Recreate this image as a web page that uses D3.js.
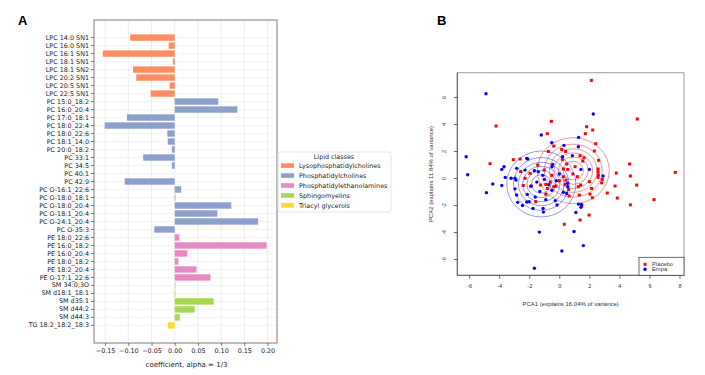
<!DOCTYPE html>
<html>
<head>
<meta charset="utf-8">
<script src="https://cdn.jsdelivr.net/npm/d3@7"></script>
<style>
  body { margin: 0; background: #fff; }
  svg { display: block; }
</style>
</head>
<body>
<svg id="chart" width="705" height="375"></svg>
<script>
// ---- panel A: coefficients per lipid ----
const lipids = [
  "LPC 14:0 SN1", "LPC 16:0 SN1", "LPC 16:1 SN1", "LPC 18:1 SN1", "LPC 18:1 SN2",
  "LPC 20:2 SN1", "LPC 20:5 SN1", "LPC 22:5 SN1",
  "PC 15:0_18:2", "PC 16:0_20:4", "PC 17:0_18:1", "PC 18:0_22:4", "PC 18:0_22:6",
  "PC 18:1_14:0", "PC 20:0_18:2", "PC 33:1", "PC 34:5", "PC 40:1", "PC 42:9",
  "PC O-16:1_22:6", "PC O-18:0_18:1", "PC O-18:0_20:4", "PC O-18:1_20:4",
  "PC O-24:1_20:4", "PC O-35:3",
  "PE 18:0_22:6", "PE 16:0_18:2", "PE 16:0_20:4", "PE 18:0_18:2", "PE 18:2_20:4",
  "PE O-17:1_22:6",
  "SM 34:0;3O", "SM d18:1_18:1", "SM d35:1", "SM d44:2", "SM d44:3",
  "TG 18:2_18:2_18:3"
];
const coefs = [
  -0.096, -0.013, -0.155, -0.004, -0.090, -0.083, -0.011, -0.052,
  0.094, 0.135, -0.103, -0.151, -0.016, -0.015, -0.006, -0.068, -0.006, 0.0, -0.108,
  0.014, 0.0015, 0.122, 0.092, 0.180, -0.044,
  0.010, 0.198, 0.027, 0.008, 0.047, 0.077,
  0.0015, 0.0015, 0.084, 0.043, 0.011,
  -0.015
];
const lipidClass = [
  0, 0, 0, 0, 0, 0, 0, 0,
  1, 1, 1, 1, 1, 1, 1, 1, 1, 1, 1, 1, 1, 1, 1, 1, 1,
  2, 2, 2, 2, 2, 2,
  3, 3, 3, 3, 3,
  4
];
const classNames = [
  "Lysophosphatidylcholines", "Phosphatidylcholines", "Phosphatidylethanolamines",
  "Sphingomyelins", "Triacyl glycerols"
];
const coefTicks = [-0.15, -0.10, -0.05, 0.00, 0.05, 0.10, 0.15, 0.20];

// ---- panel B: PCA scores ----
const placeboPC1 = [
  2.13, 5.19, -4.21, -0.53, 1.82, 2.22, -0.8, 1.73, 2.42, -0.37, 2.33, -0.73, 0.16, 0.42,
  1.38, 1.64, 2.62, 1.56, -4.61, -3.06, -2.61, 0.2, 0.49, 4.68, -2.57, -1.95, -1.44, 0.27,
  0.56, 1.05, 2.58, 2.58, 2.6, 2.58, 3.79, 4.73, 7.72, -2.28, 0.27, 0.45, 0.38, -2.4,
  -1.86, -1.24, -0.9, -0.8, -0.37, -0.22, -0.9, 0.62, 1.33, 1.42, 1.26, 2.0, 2.15, 2.04,
  2.82, 2.86, 3.71, 5.15, 3.19, 3.86, 4.73, 6.3, 2.2, 0.65, 1.5, 1.98, 1.38, 0.33, -1.57,
  0.9, -0.5, 1.2, -1.0, 0.0, -0.6
];
const placeboPC2 = [
  7.23, 4.37, 3.85, 4.2, 3.8, 3.56, 3.28, 3.28, 2.54, 2.37, 2.0, 1.97, 2.12, 1.97,
  1.65, 1.5, 1.31, 1.26, 1.06, 1.36, 1.41, 1.38, 1.04, 1.04, 0.49, 0.35, 0.96, 0.67,
  0.64, 0.84, 0.67, 0.47, 0.24, 0.05, 0.37, 0.15, 0.42, -0.02, 0.1, -0.15, -0.47, -0.55,
  -0.59, -0.52, -0.47, -0.77, -0.64, -0.59, -1.2, -0.84, -1.26, -0.52, -0.64, -0.27, -0.77, -1.19,
  -0.35, -0.1, -0.59, -0.52, -1.11, -1.48, -1.98, -1.6, -1.46, -1.33, -2.05, -2.74, -3.11, -3.42, -1.75,
  0.3, 0.2, 0.1, 0.6, -0.2, -0.3
];
const empaPC1 = [
  -4.88, 2.26, -1.2, 1.29, -0.5, 0.31, 1.27, 0.87, 0.22, -6.2, -2.17, -2.1, -0.44, -0.49,
  -6.1, -3.83, -3.68, -2.28, -1.66, -1.4, -2.84, 1.44, 2.0, 2.91, -3.6, -3.21, -2.95,
  -4.43, -4.85, -3.83, -2.88, -2.95, -2.84, -2.77, -2.45, -2.17, -2.0, -1.75, -1.08, -1.06,
  -1.33, 0.17, -1.66, -2.13, -0.27, -0.15, 0.27, 0.49, 0.56, 0.56, 1.27, 1.47, 1.44, 1.1,
  0.98, 1.6, -1.5, -1.0, -0.7, -1.3, -0.5, -1.9, -0.2, 0.0, -1.1, -1.6, -0.9
];
const empaPC2 = [
  6.24, 4.74, 3.19, 3.01, 2.62, 2.42, 2.32, 1.65, 1.58, 1.58, 1.46, 1.41, 1.01, 0.84,
  0.25, 0.64, 0.84, 0.59, 0.54, 0.47, 0.72, 0.64, 0.64, 0.15, 0.05, -0.02, -0.02,
  -0.44, -1.08, -0.55, -0.15, -0.8, -1.26, -1.8, -2.03, -1.77, -1.75, -2.25, -2.25, -2.52,
  -4.0, -5.4, -6.68, -1.21, -1.68, -2.0, -1.06, -1.14, -0.39, -0.64, -1.93, -1.96, -2.17, -2.55,
  -3.96, -5.0, -0.3, -0.1, -0.5, -1.0, -0.9, -0.6, -0.2, 0.3, 0.2, -1.4, -1.6
];
// density contour centres / outer extent (PCA units) and contour levels
const placeboCentre = [0.93, 0.55];
const placeboSpread = [2.4, 2.44];
const empaCentre = [-1.2, -0.44];
const empaSpread = [2.3, 2.44];
const contourLevels = [1, 2, 3, 4, 5, 6];
const pcaTicksX = [-6, -4, -2, 0, 2, 4, 6, 8];
const pcaTicksY = [-6, -4, -2, 0, 2, 4, 6];

(() => {
  const svg = d3.select("#chart");
  const MPL_FONT = "DejaVu Sans, sans-serif";
  const R_FONT = "Liberation Sans, Arial, sans-serif";

  // ================= Panel A =================
  const a = { left: 94, right: 277, top: 20, bottom: 343 };
  const color = d3.scaleOrdinal()
    .domain(d3.range(classNames.length))
    .range(["#fc8d62", "#8da0cb", "#e78ac3", "#a6d854", "#ffd92f"]);

  const x = d3.scaleLinear()
    .domain([-0.174, 0.2205])
    .range([a.left, a.right]);

  const y = d3.scaleBand()
    .domain(lipids)
    .range([a.top, a.bottom])
    .paddingInner(0.2)
    .paddingOuter(1.8);

  svg.append("text")
    .attr("x", 18).attr("y", 25)
    .style("font-family", "Liberation Sans, Arial, sans-serif")
    .style("font-weight", "bold")
    .style("font-size", "13px")
    .text("A");

  const gA = svg.append("g");

  // grid
  gA.append("g").selectAll("line.vg")
    .data(coefTicks)
    .join("line")
    .attr("x1", d => x(d)).attr("x2", d => x(d))
    .attr("y1", a.top).attr("y2", a.bottom)
    .attr("stroke", "#e8e8e8").attr("stroke-width", 0.8);
  gA.append("g").selectAll("line.hg")
    .data(lipids)
    .join("line")
    .attr("x1", a.left).attr("x2", a.right)
    .attr("y1", d => y(d) + y.bandwidth() / 2)
    .attr("y2", d => y(d) + y.bandwidth() / 2)
    .attr("stroke", "#f0f0f0").attr("stroke-width", 0.8);

  // bars
  gA.selectAll(".bar")
    .data(lipids.map((name, i) => ({ name, value: coefs[i], cls: lipidClass[i] })))
    .join("rect")
    .attr("class", "bar")
    .attr("x", d => x(Math.min(0, d.value)))
    .attr("y", d => y(d.name))
    .attr("width", d => Math.abs(x(d.value) - x(0)))
    .attr("height", y.bandwidth())
    .attr("fill", d => color(d.cls));

  // frame
  gA.append("rect")
    .attr("x", a.left).attr("y", a.top)
    .attr("width", a.right - a.left).attr("height", a.bottom - a.top)
    .attr("fill", "none")
    .attr("stroke", "#9a9a9a")
    .attr("stroke-width", 1.3);

  const yAxisA = gA.append("g")
    .attr("transform", `translate(${a.left},0)`)
    .call(d3.axisLeft(y).tickSize(3).tickPadding(2));
  yAxisA.select(".domain").remove();
  yAxisA.selectAll("line").attr("stroke", "#444").attr("stroke-width", 0.7);
  yAxisA.selectAll("text")
    .style("font-family", MPL_FONT)
    .style("font-size", "6.4px")
    .attr("fill", "#222");

  const xAxisA = gA.append("g")
    .attr("transform", `translate(0,${a.bottom})`)
    .call(d3.axisBottom(x).tickValues(coefTicks).tickFormat(d3.format(".2f")).tickSize(3).tickPadding(2));
  xAxisA.select(".domain").remove();
  xAxisA.selectAll("line").attr("stroke", "#444").attr("stroke-width", 0.7);
  xAxisA.selectAll("text")
    .style("font-family", MPL_FONT)
    .style("font-size", "6.4px")
    .attr("fill", "#222");

  gA.append("text")
    .attr("x", (a.left + a.right) / 2 + 1)
    .attr("y", 367)
    .attr("text-anchor", "middle")
    .style("font-family", MPL_FONT)
    .style("font-size", "7px")
    .attr("fill", "#222")
    .text("coefficient, alpha = 1/3");

  // legend
  const leg = gA.append("g").attr("transform", "translate(278,152)");
  leg.append("rect")
    .attr("width", 113).attr("height", 60)
    .attr("rx", 2)
    .attr("fill", "#fff")
    .attr("stroke", "#ddd")
    .attr("stroke-width", 0.8);
  leg.append("text")
    .attr("x", 56).attr("y", 6.7)
    .attr("text-anchor", "middle")
    .style("font-family", MPL_FONT)
    .style("font-size", "6.4px")
    .attr("fill", "#222")
    .text("Lipid classes");
  const items = leg.selectAll(".item")
    .data(classNames)
    .join("g")
    .attr("class", "item")
    .attr("transform", (d, i) => `translate(0,${13.6 + i * 9.95})`);
  items.append("rect")
    .attr("x", 3).attr("y", -2.3)
    .attr("width", 13).attr("height", 4.6)
    .attr("fill", (d, i) => color(i));
  items.append("text")
    .attr("x", 21).attr("y", 2.2)
    .style("font-family", MPL_FONT)
    .style("font-size", "6.4px")
    .attr("fill", "#222")
    .text(d => d);

  // ================= Panel B =================
  const b = { left: 457.3, right: 684, top: 72.7, bottom: 275.3 };
  const xP = d3.scaleLinear().domain([-6.79, 8.30]).range([b.left, b.right]);
  const yP = d3.scaleLinear().domain([-7.2, 7.8]).range([b.bottom, b.top]);

  svg.append("text")
    .attr("x", 437).attr("y", 25)
    .style("font-family", "Liberation Sans, Arial, sans-serif")
    .style("font-weight", "bold")
    .style("font-size", "13px")
    .text("B");

  const gB = svg.append("g");

  gB.append("rect")
    .attr("x", b.left).attr("y", b.top)
    .attr("width", b.right - b.left).attr("height", b.bottom - b.top)
    .attr("fill", "none")
    .attr("stroke", "#a0a0a0")
    .attr("stroke-width", 1);

  // points
  const placebo = placeboPC1.map((v, i) => [v, placeboPC2[i]]);
  const empa = empaPC1.map((v, i) => [v, empaPC2[i]]);

  gB.append("g").selectAll("rect")
    .data(placebo)
    .join("rect")
    .attr("x", d => xP(d[0]) - 1.5)
    .attr("y", d => yP(d[1]) - 1.5)
    .attr("width", 3).attr("height", 3)
    .attr("fill", "#f00");

  gB.append("g").selectAll("circle")
    .data(empa)
    .join("circle")
    .attr("cx", d => xP(d[0]))
    .attr("cy", d => yP(d[1]))
    .attr("r", 1.7)
    .attr("fill", "#00f");

  // contour rings
  const nLev = contourLevels.length + 1;
  const ringScale = k => Math.sqrt(Math.log(nLev / k) / Math.log(nLev));
  const drawRings = (centre, spread, stroke) => {
    gB.append("g").selectAll("ellipse")
      .data(contourLevels)
      .join("ellipse")
      .attr("cx", xP(centre[0]))
      .attr("cy", yP(centre[1]))
      .attr("rx", k => Math.abs(xP(spread[0] * ringScale(k)) - xP(0)))
      .attr("ry", k => Math.abs(yP(spread[1] * ringScale(k)) - yP(0)))
      .attr("fill", "none")
      .attr("stroke", stroke)
      .attr("stroke-opacity", 0.7)
      .attr("stroke-width", 0.65);
  };
  drawRings(placeboCentre, placeboSpread, "#d42020");
  drawRings(empaCentre, empaSpread, "#2020d0");

  // axes
  const xAxisB = gB.append("g")
    .attr("transform", `translate(0,${b.bottom})`)
    .call(d3.axisBottom(xP).tickValues(pcaTicksX).tickFormat(d => String(d)).tickSize(3.5).tickPadding(5));
  const yAxisB = gB.append("g")
    .attr("transform", `translate(${b.left},0)`)
    .call(d3.axisLeft(yP).tickValues(pcaTicksY).tickFormat(d => String(d)).tickSize(3.5).tickPadding(5));
  [xAxisB, yAxisB].forEach(ax => {
    ax.select(".domain").attr("stroke", "#444").attr("stroke-width", 0.8);
    ax.selectAll("line").attr("stroke", "#444").attr("stroke-width", 0.8);
    ax.selectAll("text")
      .style("font-family", R_FONT)
      .style("font-size", "5.6px")
      .attr("fill", "#333");
  });
  xAxisB.select(".domain").attr("d", `M${b.left},0H${b.right}`);
  yAxisB.select(".domain").attr("d", `M0,${b.top}V${b.bottom}`);
  yAxisB.selectAll(".tick text")
    .attr("x", null).attr("dy", null)
    .attr("text-anchor", "middle")
    .attr("transform", "translate(-11,0) rotate(-90)");

  gB.append("text")
    .attr("x", (b.left + b.right) / 2)
    .attr("y", 305.5)
    .attr("text-anchor", "middle")
    .style("font-family", R_FONT)
    .style("font-size", "6px")
    .attr("fill", "#333")
    .text("PCA1 (explains 16.04% of variance)");

  gB.append("text")
    .attr("transform", `translate(433,${(b.top + b.bottom) / 2}) rotate(-90)`)
    .attr("text-anchor", "middle")
    .style("font-family", R_FONT)
    .style("font-size", "6px")
    .attr("fill", "#333")
    .text("PCA2 (explains 11.84% of variance)");

  // legend
  const legB = gB.append("g").attr("transform", `translate(639,257.3)`);
  legB.append("rect")
    .attr("width", b.right - 639).attr("height", b.bottom - 257.3)
    .attr("fill", "#fff")
    .attr("stroke", "#444")
    .attr("stroke-width", 0.8);
  legB.append("rect")
    .attr("x", 4.5).attr("y", 5.5)
    .attr("width", 3).attr("height", 3)
    .attr("fill", "#f00");
  legB.append("circle")
    .attr("cx", 6).attr("cy", 12)
    .attr("r", 1.7)
    .attr("fill", "#00f");
  legB.append("text")
    .attr("x", 13).attr("y", 9)
    .style("font-family", R_FONT)
    .style("font-size", "5.8px")
    .attr("fill", "#333")
    .text("Placebo");
  legB.append("text")
    .attr("x", 13).attr("y", 14)
    .style("font-family", R_FONT)
    .style("font-size", "5.8px")
    .attr("fill", "#333")
    .text("Empa");
})();
</script>
</body>
</html>
